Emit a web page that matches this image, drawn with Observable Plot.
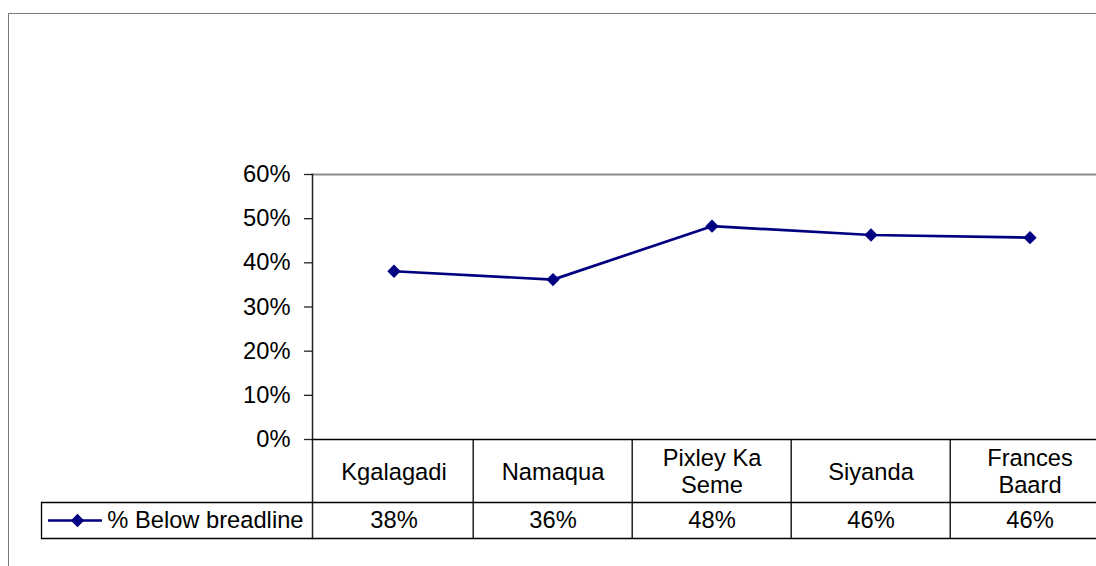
<!DOCTYPE html>
<html>
<head>
<meta charset="utf-8">
<script src="https://cdn.jsdelivr.net/npm/d3@7"></script>
<script src="https://cdn.jsdelivr.net/npm/@observablehq/plot@0.6"></script>
<style>
  html, body { margin: 0; padding: 0; overflow: hidden; background: #fff; }
  #wrap { position: relative; width: 1096px; height: 566px; overflow: hidden; }
  #outer { position: absolute; left: 8px; top: 13px; width: 2000px; height: 2000px;
           border-left: 1.5px solid #7a7a7a; border-top: 1.5px solid #7a7a7a; }
  #chart { position: absolute; left: 0; top: 0; width: 1110px; }
  #chart svg { max-width: none !important; }
</style>
</head>
<body>
<div id="wrap"><div id="outer"></div><div id="chart"></div></div>
<script>
const categories = ["Kgalagadi", "Namaqua", "Pixley Ka Seme", "Siyanda", "Frances Baard"];
const categoryLabels = ["Kgalagadi", "Namaqua", "Pixley Ka\nSeme", "Siyanda", "Frances\nBaard"];
const belowBreadline = [0.381, 0.362, 0.483, 0.463, 0.457];
const tableLabels = ["38%", "36%", "48%", "46%", "46%"];
const yTicks = [0, 0.1, 0.2, 0.3, 0.4, 0.5, 0.6];
const seriesName = "% Below breadline";

const data = categories.map((c, i) => ({cat: c, label: categoryLabels[i], v: belowBreadline[i], pct: tableLabels[i]}));

const W = 1110, H = 566, ML = 312, MR = 0, MT = 174, MB = 127;
const bw = (W - ML - MR) / categories.length;
const navy = "#000080";

const chart = Plot.plot({
  width: W, height: H,
  marginLeft: ML, marginRight: MR, marginTop: MT, marginBottom: MB,
  style: {fontFamily: "'Liberation Sans', Arial, sans-serif", fontSize: "23.7px", color: "#000", background: "transparent", overflow: "visible", maxWidth: "none"},
  x: {type: "band", domain: categories, padding: 0, axis: null},
  y: {domain: [0, 0.6]},
  marks: [
    Plot.frame({anchor: "top", stroke: "#8c8c8c", strokeWidth: 2}),
    Plot.axisY({ticks: yTicks, tickFormat: d3.format(".0%"), tickSize: 8, tickPadding: 14, label: null, stroke: "#222", strokeWidth: 1.3}),
    Plot.frame({anchor: "left", stroke: "#222", strokeWidth: 1.5, insetBottom: -99}),
    Plot.ruleY([0], {stroke: "#000", strokeWidth: 1.5}),
    Plot.ruleY([0], {dy: 63, insetLeft: -271, stroke: "#000", strokeWidth: 1.3}),
    Plot.ruleY([0], {dy: 99, insetLeft: -271, stroke: "#000", strokeWidth: 1.3}),
    Plot.ruleX(categories.slice(1), {x: d => d, dx: -bw / 2, insetTop: H - MT - MB, insetBottom: -99, stroke: "#000", strokeWidth: 1.3}),
    Plot.frame({anchor: "left", dx: -271, insetTop: H - MT - MB + 63, insetBottom: -99, stroke: "#000", strokeWidth: 1.3}),
    Plot.line(data, {x: "cat", y: "v", stroke: navy, strokeWidth: 2.7}),
    Plot.dot(data, {x: "cat", y: "v", symbol: "diamond2", r: 6, fill: navy, stroke: "none"}),
    Plot.text(data, {x: "cat", text: "label", frameAnchor: "bottom", lineAnchor: "middle", dy: 31.5, lineHeight: 1.12, fill: "#000"}),
    Plot.text(data, {x: "cat", text: "pct", frameAnchor: "bottom", lineAnchor: "middle", dy: 81, fill: "#000"}),
    Plot.text([seriesName], {text: d => d, frameAnchor: "bottom-left", lineAnchor: "middle", dx: -9, dy: 81, textAnchor: "end", fill: "#000"}),
    Plot.ruleY([0], {dy: 81, insetLeft: -264, insetRight: W - MR - 102, stroke: navy, strokeWidth: 2.7}),
    Plot.dot([seriesName], {frameAnchor: "bottom-left", dx: -235, dy: 81, symbol: "diamond2", r: 6, fill: navy, stroke: "none"})
  ]
});
document.getElementById("chart").appendChild(chart);
</script>
</body>
</html>
